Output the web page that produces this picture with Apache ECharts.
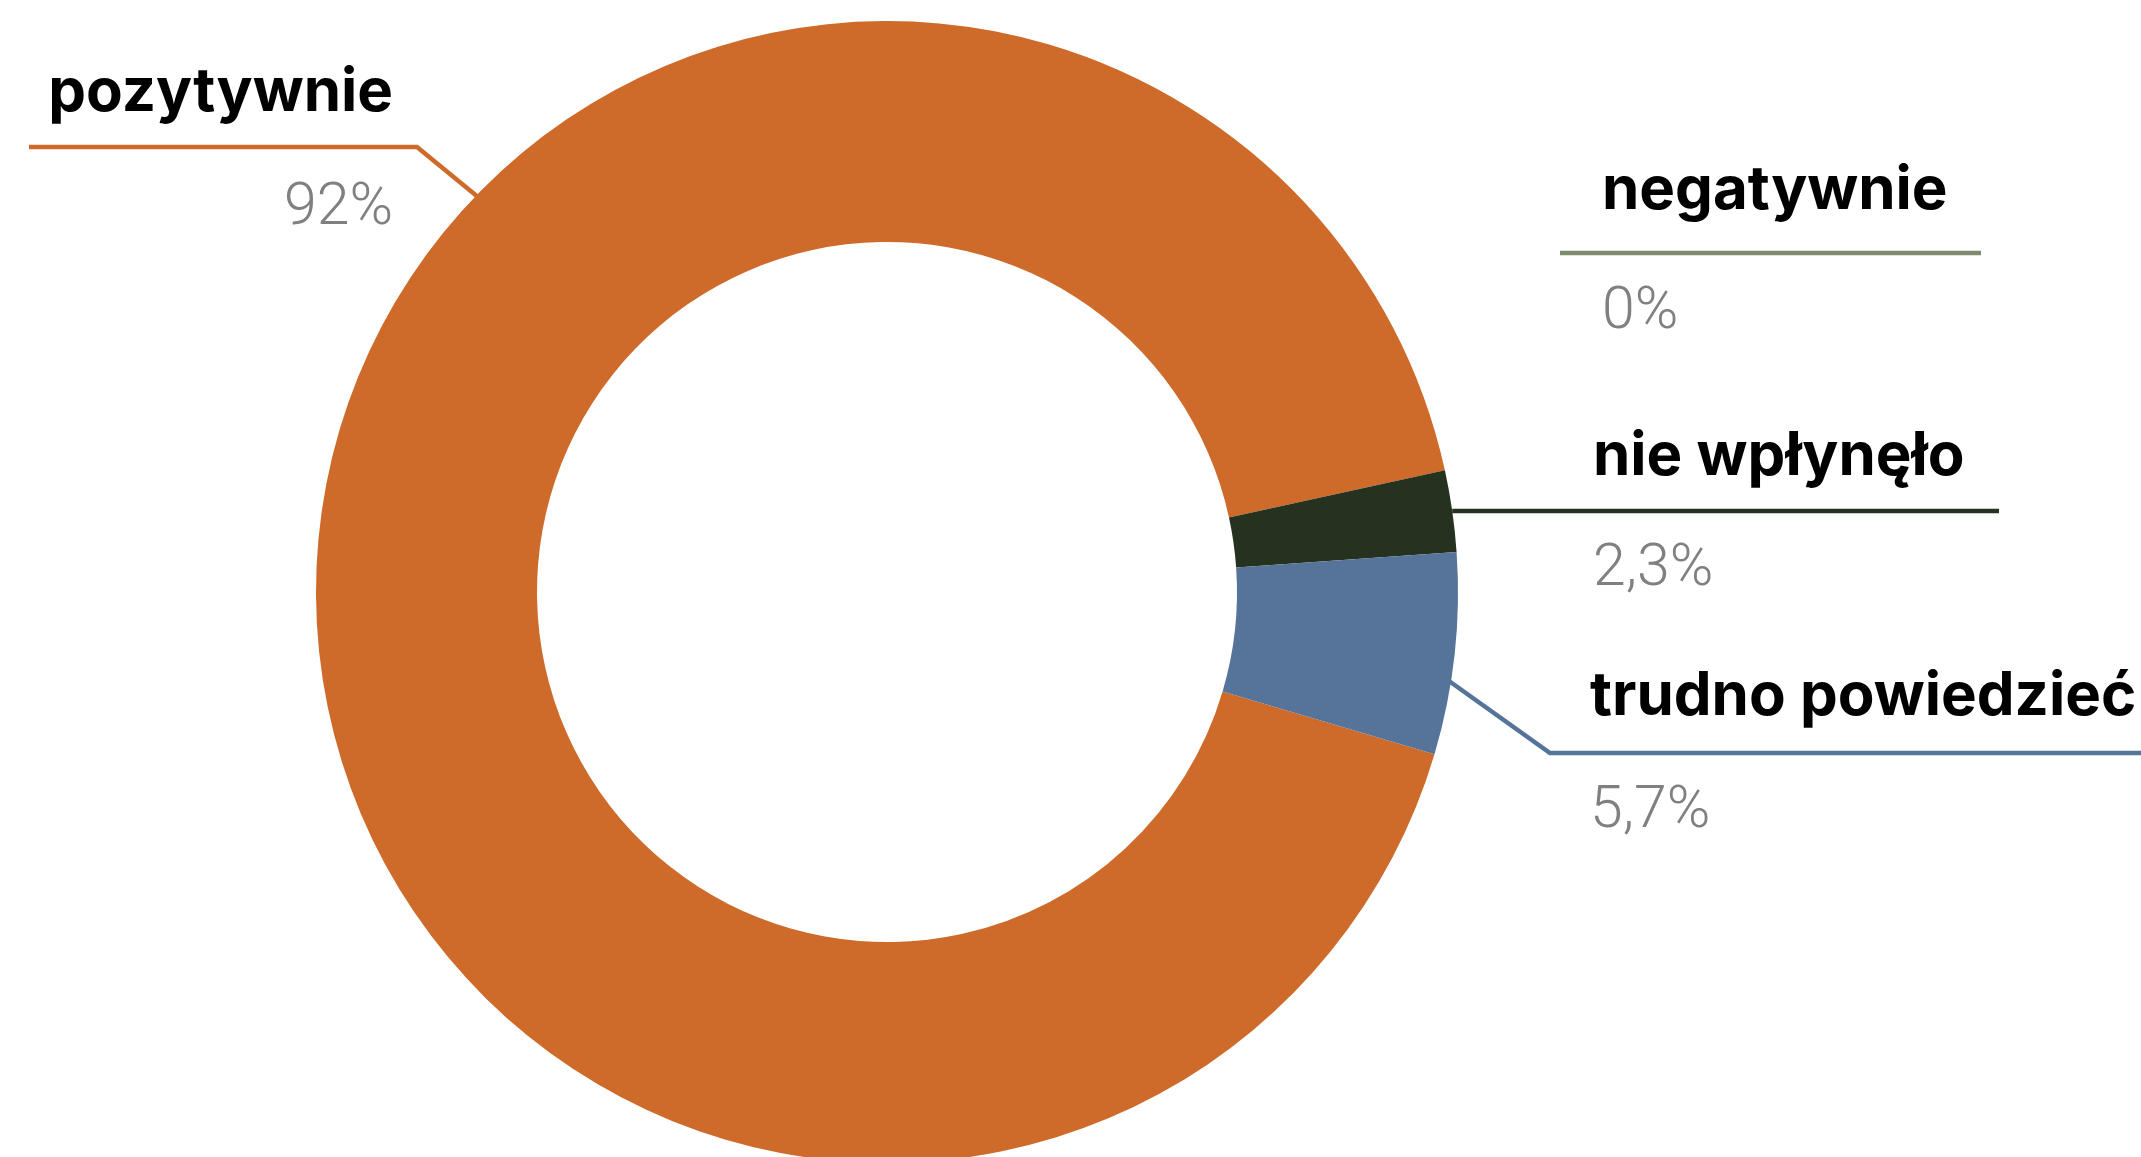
<!DOCTYPE html>
<html>
<head>
<meta charset="utf-8">
<script src="https://cdn.jsdelivr.net/npm/echarts/dist/echarts.min.js"></script>
<style>
html,body{margin:0;padding:0;background:#fff;}
#chart{width:2141px;height:1157px;}
</style>
</head>
<body>
<div id="chart"></div>
<script>
// ---- data ----
const categories = ['pozytywnie', 'negatywnie', 'nie wpłynęło', 'trudno powiedzieć'];
const values = [92, 0, 2.3, 5.7];
const colors = ['#CE6B2A', '#7F8B6E', '#263220', '#56749A'];

// ---- layout (label placement, not data) ----
const CX = 887, CY = 592, R_IN = 350, R_OUT = 571;
const labelPlacement = [
  { anchorAngle: 136, bendX: 417, lineY: 147, endX: 29, textX: 393, align: 'right', nameH: 109, valH: 125 },
  { anchorAngle: null, bendX: 1560, lineY: 253, endX: 1981, textX: 1602, align: 'left', nameH: 125, valH: 121 },
  { anchorAngle: 'mid', bendX: null, lineY: null, endX: 1999, textX: 1593, align: 'left', nameH: 108, valH: 118 },
  { anchorAngle: -9, bendX: 1550, lineY: 753, endX: 2160, textX: 1590, align: 'left', nameH: 112, valH: 118 }
];

const chart = echarts.init(document.getElementById('chart'), null, { renderer: 'canvas' });

const NAME_FONT = 'Inter, "Open Sans", sans-serif';
const VAL_FONT = 'Roboto, "Liberation Sans", sans-serif';

function richFor(i) {
  const L = labelPlacement[i];
  return {
    n: { fontFamily: NAME_FONT, fontWeight: 700, fontSize: 60, color: '#000000', lineHeight: L.nameH, align: L.align },
    v: { fontFamily: VAL_FONT, fontWeight: 300, fontSize: 59, color: '#808080', lineHeight: L.valH, align: L.align }
  };
}

const option = {
  animation: false,
  backgroundColor: '#ffffff',
  series: [{
    type: 'pie',
    center: [CX, CY],
    radius: [R_IN, R_OUT],
    startAngle: -16.5,
    clockwise: true,
    avoidLabelOverlap: false,
    minShowLabelAngle: 0,
    silent: true,
    data: categories.map((c, i) => ({
      name: c,
      value: values[i],
      itemStyle: { color: colors[i] },
      label: { rich: richFor(i) }
    })),
    itemStyle: { borderWidth: 0 },
    label: {
      show: true,
      position: 'outside',
      formatter: p => '{n|' + p.name + '}\n{v|' + String(p.value).replace('.', ',') + '%}'
    },
    labelLine: { show: true, length: 10, length2: 10, smooth: false, lineStyle: { width: 4.5 } },
    labelLayout: function (params) {
      const i = params.dataIndex;
      const L = labelPlacement[i];
      let p0, p1, lineY;
      if (L.anchorAngle === 'mid') {
        p0 = params.labelLinePoints[0].slice();
        lineY = p0[1];
        p1 = p0.slice();
      } else if (L.anchorAngle === null) {
        lineY = L.lineY;
        p0 = [L.bendX, lineY];
        p1 = [L.bendX, lineY];
      } else {
        const a = L.anchorAngle * Math.PI / 180;
        p0 = [CX + (R_OUT - 2) * Math.cos(a), CY - (R_OUT - 2) * Math.sin(a)];
        lineY = L.lineY;
        p1 = [L.bendX, lineY];
      }
      const p2 = [L.endX, lineY];
      return {
        x: L.textX,
        y: lineY - L.nameH,
        align: L.align,
        verticalAlign: 'top',
        labelLinePoints: [p0, p1, p2]
      };
    }
  }]
};
chart.setOption(option);
</script>
</body>
</html>
